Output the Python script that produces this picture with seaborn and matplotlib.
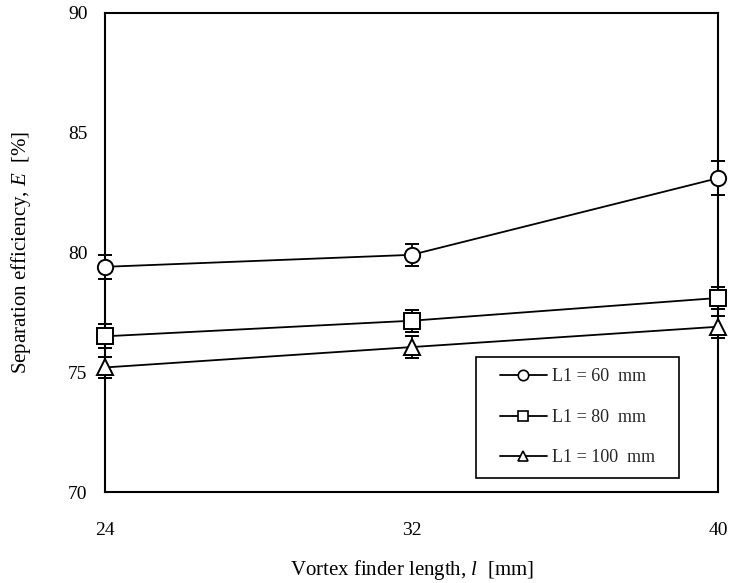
import matplotlib
matplotlib.use("Agg")
import matplotlib.pyplot as plt
import seaborn as sns
import pandas as pd
from matplotlib.lines import Line2D
from matplotlib.legend_handler import HandlerLine2D

x_vals = [24, 32, 40]
series_labels = ["L1 = 60  mm", "L1 = 80  mm", "L1 = 100  mm"]
eff_60 = [79.4, 79.9, 83.1]
eff_80 = [76.5, 77.15, 78.1]
eff_100 = [75.2, 76.05, 76.9]
err_60 = [0.5, 0.47, 0.7]
err_80 = [0.5, 0.45, 0.45]
err_100 = [0.45, 0.45, 0.45]
markers = ["o", "s", "^"]
x_ticks = [24, 32, 40]
y_ticks = [70, 75, 80, 85, 90]

sns.set_theme(style="white")
plt.rcParams["font.family"] = ["Liberation Serif", "DejaVu Serif"]
plt.rcParams["mathtext.fontset"] = "custom"
plt.rcParams["mathtext.rm"] = "Liberation Serif"
plt.rcParams["mathtext.it"] = "Liberation Serif:italic"

fig = plt.figure(figsize=(7.29, 5.83), dpi=100)
ax = fig.add_axes([0.144, 0.156, 0.841, 0.822])

effs = [eff_60, eff_80, eff_100]
errs = [err_60, err_80, err_100]
handles = []
for lab, e, er, m in zip(series_labels, effs, errs, markers):
    df = pd.DataFrame({"x": x_vals, "y": e})
    ax.errorbar(x_vals, e, yerr=er, fmt="none", ecolor="black", elinewidth=1.3,
                capsize=4.7, capthick=1.4, zorder=2, clip_on=False)
    sns.lineplot(data=df, x="x", y="y", ax=ax, color="black", linewidth=1.3,
                 marker=m, markersize=11 if m != "^" else 12, markerfacecolor="white",
                 markeredgecolor="black", markeredgewidth=1.4, zorder=3, clip_on=False)
    handles.append(Line2D([0], [0], color="black", linewidth=1.3, marker=m,
                          markersize=7.5, markerfacecolor="white",
                          markeredgecolor="black", markeredgewidth=1.2))

ax.set_xlim(24, 40)
ax.set_ylim(70, 90)
ax.set_xticks(x_ticks)
ax.set_yticks(y_ticks)
ax.tick_params(axis="both", labelsize=14, colors="black", direction="out",
               length=5.5, width=0.8, color="#888888")
ax.tick_params(axis="x", pad=16)
ax.tick_params(axis="y", pad=7)
for s in ax.spines.values():
    s.set_color("black")
    s.set_linewidth(1.5)
    s.set_visible(True)

ax.set_xlabel(r"Vortex finder length, $\mathit{l}$  [mm]", fontsize=15, labelpad=14, color="black")
ax.set_ylabel(r"Separation efficiency, $\mathit{E}$  [%]", fontsize=15, labelpad=25, color="black")

leg = ax.legend(handles, series_labels, loc="lower left",
                bbox_to_anchor=(0.6052, 0.029, 0.3312, 0.25), mode="expand",
                borderaxespad=0, fontsize=13, frameon=True, fancybox=False,
                edgecolor="black", framealpha=1, handlelength=3.27,
                labelspacing=1.3, borderpad=0.65, handletextpad=0.28,
                handler_map={Line2D: HandlerLine2D(xpad=0.66)})
leg.get_frame().set_linewidth(1.2)

fig.savefig("out.png", dpi=100)
